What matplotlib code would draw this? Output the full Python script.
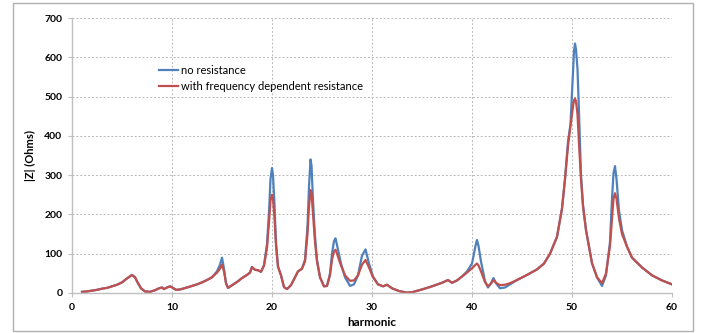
import matplotlib
matplotlib.use("Agg")
import matplotlib.pyplot as plt
from matplotlib.patches import Rectangle

plt.rcParams['font.family'] = ['Lato', 'DejaVu Sans']

# harmonic order and |Z| values
harmonic = [1.0, 1.5, 2.0, 2.5, 3.0, 3.5, 4.0, 4.5, 5.0, 5.5, 6.0, 6.3, 6.6, 6.9, 7.3, 7.8,
            8.3, 8.7, 9.0, 9.2, 9.5, 9.8, 10.1, 10.4, 10.8, 11.5, 12.0, 12.5, 13.0, 13.5,
            14.0, 14.5, 14.8, 15.0, 15.2, 15.4, 15.6, 15.9, 16.5, 17.0, 17.5, 17.8, 18.0,
            18.3, 18.6, 18.9, 19.2, 19.5, 19.7, 19.85, 20.0, 20.1, 20.25, 20.4, 20.6, 20.9,
            21.2, 21.5, 21.9, 22.3, 22.6, 23.0, 23.3, 23.55, 23.7, 23.85, 23.95, 24.1,
            24.3, 24.5, 24.8, 25.2, 25.5, 25.8, 26.0, 26.2, 26.35, 26.5, 26.9, 27.3, 27.8,
            28.2, 28.6, 29.0, 29.35, 29.7, 30.1, 30.6, 31.1, 31.5, 32.0, 32.7, 33.5, 34.0,
            35.0, 36.0, 37.0, 37.6, 38.0, 38.5, 39.0, 39.5, 40.0, 40.35, 40.5, 40.65, 40.9,
            41.3, 41.6, 41.9, 42.15, 42.4, 42.8, 43.3, 43.8, 44.5, 45.5, 46.5, 47.2, 47.8,
            48.5, 49.0, 49.3, 49.6, 49.85, 50.1, 50.2, 50.3, 50.4, 50.55, 50.7, 50.9, 51.1,
            51.4, 52.0, 52.5, 53.0, 53.4, 53.8, 54.0, 54.15, 54.3, 54.45, 54.7, 55.0, 55.5,
            56.0, 57.0, 58.0, 59.0, 60.0]

z_with_r = [3, 4, 6, 8, 11, 13, 17, 21, 27, 37, 46, 40, 25, 12, 4, 3,
            7, 12, 14, 10, 14, 17, 13, 8, 9, 14, 18, 22, 27, 33,
            40, 52, 62, 72, 55, 25, 13, 18, 28, 38, 46, 52, 66,
            59, 58, 54, 70, 115, 180, 235, 250, 240, 190, 120, 67, 45,
            15, 10, 20, 40, 55, 62, 80, 150, 220, 262, 255, 200,
            130, 80, 40, 17, 18, 45, 85, 106, 110, 100, 70, 45, 31,
            32, 45, 72, 84, 65, 40, 22, 17, 21, 12, 5, 1, 2,
            9, 17, 26, 33, 26, 32, 42, 52, 63, 72, 75, 70, 55,
            28, 17, 24, 33, 26, 20, 21, 25, 33, 46, 60, 75, 100,
            143, 215, 290, 375, 425, 475, 490, 495, 488, 455, 380, 290, 220,
            160, 76, 40, 25, 50, 120, 190, 240, 254, 240, 190, 150, 118,
            90, 65, 45, 32, 22]

z_no_r = [3, 4, 6, 8, 11, 13, 17, 21, 27, 37, 46, 40, 25, 12, 4, 3,
          7, 12, 14, 10, 14, 17, 13, 8, 9, 14, 18, 22, 27, 33,
          40, 55, 72, 90, 62, 25, 13, 18, 28, 38, 46, 52, 66,
          59, 58, 54, 70, 125, 205, 290, 318, 300, 225, 130, 67, 45,
          15, 10, 20, 40, 55, 62, 85, 170, 270, 340, 325, 235,
          145, 85, 40, 17, 18, 50, 100, 132, 139, 122, 75, 40, 18,
          22, 45, 95, 111, 75, 42, 22, 17, 21, 12, 5, 1, 2,
          9, 17, 26, 33, 26, 32, 42, 55, 75, 120, 135, 120, 80,
          30, 14, 25, 38, 25, 12, 14, 22, 33, 46, 60, 75, 100,
          143, 215, 290, 385, 430, 560, 615, 635, 620, 570, 460, 300, 225,
          160, 76, 40, 18, 45, 130, 240, 305, 323, 290, 210, 160, 118,
          90, 65, 45, 32, 22]

fig = plt.figure(figsize=(7.1, 3.33), dpi=100)
ax = fig.add_axes([72 / 710, 40 / 333, 600 / 710, 275 / 333])

ax.plot(harmonic, z_no_r, color='#4F81BD', lw=1.6, label='no resistance')
ax.plot(harmonic, z_with_r, color='#C0504D', lw=1.6, label='with frequency dependent resistance')

ax.set_xlim(0, 60)
ax.set_ylim(0, 700)
ax.set_xticks(range(0, 61, 10))
ax.set_yticks(range(0, 701, 100))
ax.grid(True, color='#b8b8b8', linestyle=(0, (2, 2)), linewidth=0.7)
for s in ['top', 'right']:
    ax.spines[s].set_visible(False)
for s in ['left', 'bottom']:
    ax.spines[s].set_color('#c0c0c0')
    ax.spines[s].set_linewidth(1.0)
ax.tick_params(colors='#c0c0c0', labelcolor='black', length=3, labelsize=7.5, pad=4)
for lab in ax.get_xticklabels() + ax.get_yticklabels():
    lab.set_fontweight('bold')

ax.set_ylabel('|Z| (Ohms)', fontsize=8, fontweight='bold', labelpad=6)
ax.set_xlabel('harmonic', fontsize=8.5, fontweight='bold', labelpad=4)

ax.legend(loc='upper left', bbox_to_anchor=(0.138, 0.845), frameon=False, fontsize=8,
          handlelength=1.7, handletextpad=0.3, labelspacing=0.45, borderaxespad=0)

# outer chart border
fig.patches.append(Rectangle((13 / 710, 2 / 333), 680 / 710, 328 / 333, transform=fig.transFigure,
                             fill=False, edgecolor='#b0b0b0', linewidth=1.0))

fig.savefig('out.png', dpi=100)
